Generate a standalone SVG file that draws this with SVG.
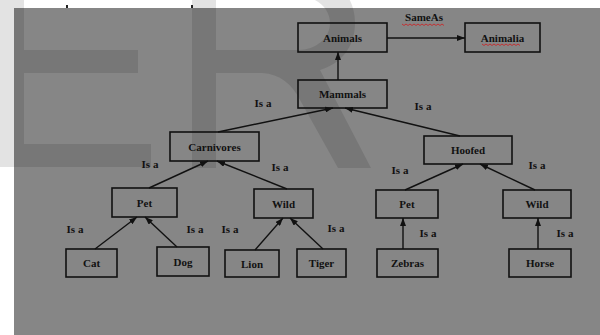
<svg xmlns="http://www.w3.org/2000/svg" width="600" height="335" viewBox="0 0 600 335">
<style>
.box{fill:none;stroke:#111;stroke-width:1.6}
.lbl{font-family:"Liberation Serif","Times New Roman",serif;font-weight:bold;font-size:11px;fill:#111;text-anchor:middle}
.edge{stroke:#111;stroke-width:1.4;fill:none;marker-end:url(#ah)}
.wm{fill:#000;fill-opacity:0.11;fill-rule:evenodd}
.sq{fill:none;stroke:#c8282a;stroke-width:0.9}
</style>
<defs>
<marker id="ah" markerUnits="userSpaceOnUse" markerWidth="8" markerHeight="6" refX="8" refY="3" orient="auto">
<path d="M0,0 L8,3 L0,6 Z" fill="#111"/>
</marker>
</defs>
<rect x="0" y="0" width="600" height="335" fill="#ffffff"/>
<rect x="14" y="8" width="586" height="327" fill="#868686"/>
<g id="watermark">
<path class="wm" d="M-5,-27 H150 V-4 H24 V50 H138 V73 H24 V144 H151 V167 H-5 Z"/>
<path class="wm" d="M192,168 V-27 H300 C335,-27 355,-5 355,23 C355,48 340,64 320,70 L371,168 H338 L300,100 C292,84 280,74 262,73 H216 V168 Z M216,-4 H298 C316,-4 330,8 330,23 C330,38 316,50 298,50 H216 Z"/>
<rect x="66" y="5" width="2" height="3" fill="#222"/>
<rect x="191" y="5" width="2" height="3" fill="#222"/>
</g>
<g id="connectors">
<line class="edge" x1="338" y1="80" x2="338" y2="52"/>
<line class="edge" x1="387" y1="38" x2="465" y2="38"/>
<line class="edge" x1="218" y1="132" x2="333" y2="108"/>
<line class="edge" x1="460" y1="136" x2="345" y2="108"/>
<line class="edge" x1="149" y1="188" x2="208" y2="161"/>
<line class="edge" x1="287" y1="189" x2="217" y2="161"/>
<line class="edge" x1="95" y1="249" x2="137" y2="217"/>
<line class="edge" x1="177" y1="247" x2="145" y2="217"/>
<line class="edge" x1="255" y1="250" x2="283" y2="218"/>
<line class="edge" x1="323" y1="249" x2="290" y2="218"/>
<line class="edge" x1="405" y1="190" x2="463" y2="164"/>
<line class="edge" x1="535" y1="190" x2="480" y2="164"/>
<line class="edge" x1="403" y1="249" x2="403" y2="218"/>
<line class="edge" x1="538" y1="249" x2="538" y2="218"/>
<text class="lbl" x="424" y="21">SameAs</text>
<path class="sq" d="M402,24 l2,1.5 l2,-1.5 l2,1.5 l2,-1.5 l2,1.5 l2,-1.5 l2,1.5 l2,-1.5 l2,1.5 l2,-1.5 l2,1.5 l2,-1.5 l2,1.5 l2,-1.5 l2,1.5 l2,-1.5 l2,1.5 l2,-1.5 l2,1.5 l2,-1.5 l2,1.5"/>
<text class="lbl" x="263" y="107">Is a</text>
<text class="lbl" x="423" y="110">Is a</text>
<text class="lbl" x="150" y="168">Is a</text>
<text class="lbl" x="280" y="171">Is a</text>
<text class="lbl" x="400" y="174">Is a</text>
<text class="lbl" x="537" y="169">Is a</text>
<text class="lbl" x="75" y="233">Is a</text>
<text class="lbl" x="195" y="233">Is a</text>
<text class="lbl" x="230" y="233">Is a</text>
<text class="lbl" x="336" y="232">Is a</text>
<text class="lbl" x="428" y="237">Is a</text>
<text class="lbl" x="565" y="237">Is a</text>
</g>
<g id="animals"><rect class="box" x="298" y="23" width="89" height="29"/><text class="lbl" x="342.5" y="41.5">Animals</text></g>
<g id="animalia"><rect class="box" x="465" y="23" width="75" height="29"/><text class="lbl" x="502.5" y="41.5">Animalia</text>
<path class="sq" d="M482,44 l2,1.5 l2,-1.5 l2,1.5 l2,-1.5 l2,1.5 l2,-1.5 l2,1.5 l2,-1.5 l2,1.5 l2,-1.5 l2,1.5 l2,-1.5 l2,1.5 l2,-1.5 l2,1.5 l2,-1.5 l2,1.5 l2,-1.5 l2,1.5"/></g>
<g id="mammals"><rect class="box" x="298" y="80" width="89" height="28"/><text class="lbl" x="342.5" y="98">Mammals</text></g>
<g id="carnivores"><rect class="box" x="170" y="132" width="89" height="29"/><text class="lbl" x="214.5" y="150.5">Carnivores</text></g>
<g id="hoofed"><rect class="box" x="424" y="136" width="88" height="28"/><text class="lbl" x="468" y="154">Hoofed</text></g>
<g id="pet-carnivores"><rect class="box" x="112" y="188" width="65" height="29"/><text class="lbl" x="144.5" y="206.5">Pet</text></g>
<g id="wild-carnivores"><rect class="box" x="254" y="189" width="59" height="29"/><text class="lbl" x="283.5" y="207.5">Wild</text></g>
<g id="pet-hoofed"><rect class="box" x="376" y="190" width="62" height="28"/><text class="lbl" x="407" y="208">Pet</text></g>
<g id="wild-hoofed"><rect class="box" x="503" y="190" width="68" height="28"/><text class="lbl" x="537" y="208">Wild</text></g>
<g id="cat"><rect class="box" x="66" y="249" width="51" height="28"/><text class="lbl" x="91.5" y="267">Cat</text></g>
<g id="dog"><rect class="box" x="157" y="247" width="52" height="29"/><text class="lbl" x="183" y="265.5">Dog</text></g>
<g id="lion"><rect class="box" x="225" y="250" width="54" height="27"/><text class="lbl" x="252" y="267.5">Lion</text></g>
<g id="tiger"><rect class="box" x="297" y="249" width="49" height="28"/><text class="lbl" x="321.5" y="267">Tiger</text></g>
<g id="zebras"><rect class="box" x="377" y="249" width="61" height="28"/><text class="lbl" x="407.5" y="267">Zebras</text></g>
<g id="horse"><rect class="box" x="509" y="249" width="62" height="28"/><text class="lbl" x="540" y="267">Horse</text></g>
</svg>
